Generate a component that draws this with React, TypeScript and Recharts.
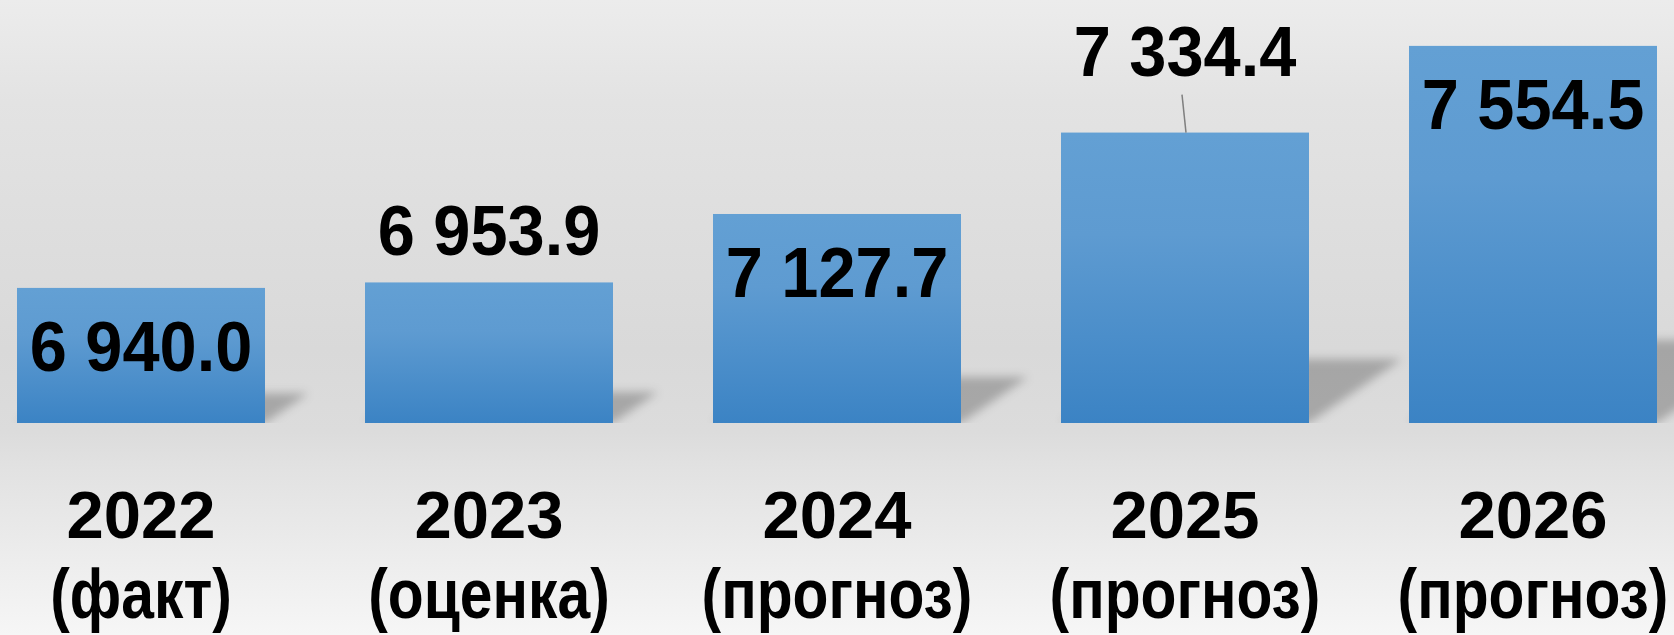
import React from "react";
import { BarChart, Bar, XAxis, YAxis, LabelList } from "recharts";

const YEARS = ["2022", "2023", "2024", "2025", "2026"];
const STATUS = ["(факт)", "(оценка)", "(прогноз)", "(прогноз)", "(прогноз)"];
const VALUES = [6940.0, 6953.9, 7127.7, 7334.4, 7554.5];
// where Excel put each data label
const LABEL_PLACE = ["inside", "above", "inside", "callout", "inside"];

const data = YEARS.map((year, i) => ({ year, status: STATUS[i], value: VALUES[i] }));

const FONT = "'Liberation Sans', Arial, sans-serif";

function fmt(v: number) {
  const [i, d] = v.toFixed(1).split(".");
  return i.replace(/\B(?=(\d{3})+(?!\d))/g, " ") + "." + d;
}

// bold text squeezed horizontally, like the narrow font of the original
function Squeezed({ x, y, sx, size, children }: any) {
  return (
    <text
      transform={`translate(${x} ${y}) scale(${sx} 1)`}
      textAnchor="middle"
      fill="#000"
      style={{ fontFamily: FONT, fontWeight: 700, fontSize: size }}
    >
      {children}
    </text>
  );
}

function ShadowBar(props: any) {
  const { x, y, width, height } = props;
  if (!height) return null;
  const base = y + height;
  const dx = height * 0.32;
  const dy = height * 0.22;
  const pts = [
    [x, base],
    [x + width, base],
    [x + width + dx, base - dy],
    [x + dx, base - dy],
  ]
    .map((p) => p.join(","))
    .join(" ");
  return (
    <g>
      <polygon points={pts} fill="#000" fillOpacity={0.24} filter="url(#barShadow)" />
      <rect x={x} y={y} width={width} height={height} fill="url(#barFill)" />
    </g>
  );
}

function ValueLabel(props: any) {
  const vb = props.viewBox ?? props;
  const x = vb.x ?? props.x;
  const y = vb.y ?? props.y;
  const width = vb.width ?? props.width;
  const { value, index } = props;
  const cx = x + width / 2;
  const place = LABEL_PLACE[index];
  if (place === "above") {
    return <Squeezed x={cx} y={y - 27} sx={0.94} size={71}>{fmt(value)}</Squeezed>;
  }
  if (place === "callout") {
    return (
      <g>
        <line x1={cx - 3} y1={y - 38} x2={cx + 1} y2={y} stroke="#7f7f7f" strokeWidth={1.5} />
        <Squeezed x={cx} y={y - 57} sx={0.94} size={71}>{fmt(value)}</Squeezed>
      </g>
    );
  }
  return <Squeezed x={cx} y={y + 83} sx={0.94} size={71}>{fmt(value)}</Squeezed>;
}

function YearTick(props: any) {
  const { x, y, index } = props;
  return (
    <g>
      <Squeezed x={x} y={y + 115} sx={1} size={67}>{YEARS[index]}</Squeezed>
      <Squeezed x={x} y={y + 195} sx={0.84} size={70}>{STATUS[index]}</Squeezed>
    </g>
  );
}

export default function App() {
  return (
    <div
      style={{
        position: "absolute",
        left: 0,
        top: 0,
        width: 1674,
        height: 635,
        overflow: "hidden",
        background:
          "linear-gradient(to bottom, #ececec 0%, #e3e3e3 16%, #d9d9d9 55%, #dcdcdc 68%, #e2e2e2 74%, #f6f6f6 100%)",
      }}
    >
      <div style={{ position: "absolute", left: -33, top: 0 }}>
        <BarChart
          width={1740}
          height={635}
          data={data}
          margin={{ top: 0, right: 0, bottom: 0, left: 0 }}
          barSize={248}
        >
          <defs>
            <linearGradient id="barFill" x1="0" y1="0" x2="0" y2="1">
              <stop offset="0%" stopColor="#63a0d4" />
              <stop offset="35%" stopColor="#5e9bd1" />
              <stop offset="100%" stopColor="#3b83c4" />
            </linearGradient>
            <filter id="barShadow" x="-30%" y="-60%" width="160%" height="220%">
              <feGaussianBlur stdDeviation="5" />
            </filter>
          </defs>
          <XAxis
            dataKey="year"
            height={212}
            interval={0}
            tickSize={0}
            tickMargin={0}
            axisLine={false}
            tickLine={false}
            tick={<YearTick />}
          />
          <YAxis hide domain={[6597, 7671]} allowDataOverflow />
          <Bar dataKey="value" shape={ShadowBar} isAnimationActive={false}>
            <LabelList dataKey="value" content={<ValueLabel />} />
          </Bar>
        </BarChart>
      </div>
    </div>
  );
}
